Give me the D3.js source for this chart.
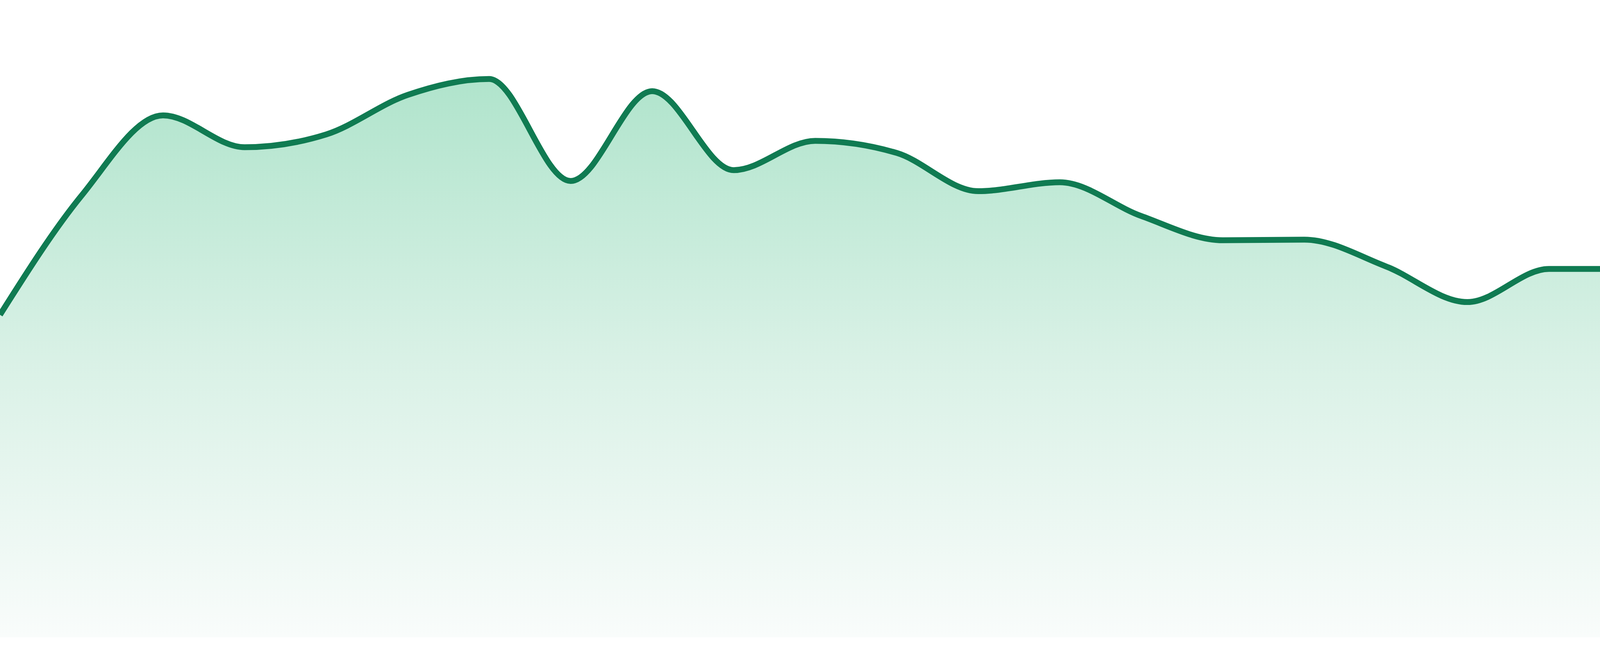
<!DOCTYPE html>
<html>
<head>
<meta charset="utf-8">
<script src="https://cdn.jsdelivr.net/npm/d3@7"></script>
<style>
  html, body { margin: 0; padding: 0; background: #fff; }
  svg { display: block; }
</style>
</head>
<body>
<div id="chart"></div>
<script>
// one value per step
const steps = d3.range(24);
const values = [50.6, 69.3, 81.9, 76.9, 78.9, 85.1, 87.6, 71.6, 85.7, 73.3, 77.9, 76.0,
                70.0, 71.4, 66.1, 62.3, 62.4, 58.2, 52.6, 57.8, 57.8, 43.9, 50.9, 48.5];

const width = 4800,
      height = 1680,
      baseline = 1632;

const data = steps.map((s, i) => ({ step: s, value: values[i] }));

const svg = d3.select("#chart")
    .append("svg")
    .attr("width", width)
    .attr("height", height);

const x = d3.scaleLinear()
    .domain(d3.extent(steps))
    .range([0, width]);

const y = d3.scaleLinear()
    .domain([0, 100])
    .range([baseline, 0]);

const grad = svg.append("defs")
    .append("linearGradient")
    .attr("id", "fillGrad")
    .attr("x1", 0).attr("y1", 0)
    .attr("x2", 0).attr("y2", 1);

grad.append("stop").attr("offset", "0%").attr("stop-color", "#b0e4cc");
grad.append("stop").attr("offset", "50%").attr("stop-color", "#d9f1e6");
grad.append("stop").attr("offset", "100%").attr("stop-color", "#f9fcfb");

const area = d3.area()
    .curve(d3.curveMonotoneX)
    .x(d => x(d.step))
    .y0(y(0))
    .y1(d => y(d.value));

const line = d3.line()
    .curve(d3.curveMonotoneX)
    .x(d => x(d.step))
    .y(d => y(d.value));

svg.append("path")
    .datum(data)
    .attr("fill", "url(#fillGrad)")
    .attr("d", area);

svg.append("path")
    .datum(data)
    .attr("fill", "none")
    .attr("stroke", "#107b52")
    .attr("stroke-width", 15)
    .attr("stroke-linejoin", "round")
    .attr("d", line);
</script>
</body>
</html>
